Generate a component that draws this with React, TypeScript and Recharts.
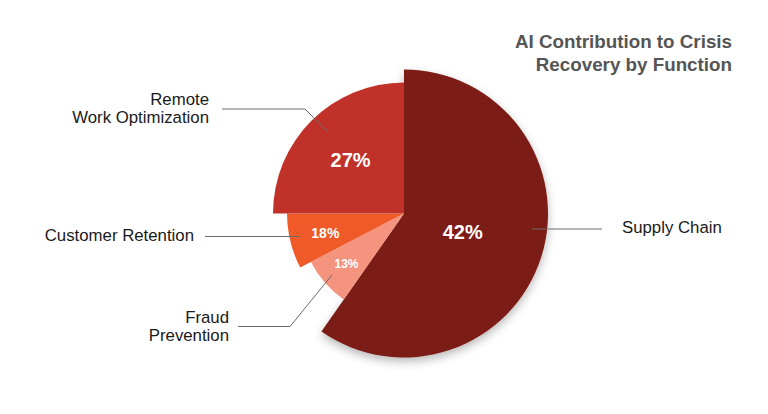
import React from 'react';
import { PieChart, Pie, Cell } from 'recharts';

// slices in clockwise order from 12 o'clock
const categories = ['Supply Chain', 'Fraud\nPrevention', 'Customer Retention', 'Remote\nWork Optimization'];
const shares = [42, 13, 18, 27];        // printed percentage
const sweeps = [215, 27.5, 27.5, 90];   // angular weight as drawn
const radii = [144, 105, 117, 131];     // outer radius of each slice
const colors = ['#7b1d16', '#f4937e', '#f05a29', '#bf3129'];

const data = categories.map((name, i) => ({ name, share: shares[i], sweep: sweeps[i] }));

const FONT = "'Liberation Sans', Arial, Helvetica, sans-serif";
const CX = 404;
const CY = 213.5;

// label layout, offsets from the pie centre
const pctRadius = [61.5, 76.5, 81, 75.5];
const pctSize = [20, 12, 14, 20];
const leaders = [
  { pts: [[128, 15.5], [198, 15.5]], anchor: 'start', tx: 218, ty: 13.5 },
  { pts: [[-72, 61.5], [-114, 113], [-166, 113]], anchor: 'end', tx: -175, ty: 103 },
  { pts: [[-104, 23], [-199, 23]], anchor: 'end', tx: -210, ty: 21.5 },
  { pts: [[-76, -81.5], [-99, -104.5], [-182, -104.5]], anchor: 'end', tx: -195, ty: -115 },
];

const RAD = Math.PI / 180;

const makeLabel = (slot: number) => (props: any) => {
  if (props.index !== slot) return null;
  const { cx, cy, midAngle } = props;
  const px = cx + pctRadius[slot] * Math.cos(-midAngle * RAD);
  const py = cy + pctRadius[slot] * Math.sin(-midAngle * RAD);
  const lead = leaders[slot];
  const path = lead.pts.map((p, k) => `${k ? 'L' : 'M'}${cx + p[0]},${cy + p[1]}`).join(' ');
  const lines = categories[slot].split('\n');
  return (
    <g>
      <path d={path} stroke="#6b6b6b" strokeWidth={1} fill="none" />
      <text
        x={px}
        y={py}
        fill="#fff"
        fontFamily={FONT}
        fontWeight="bold"
        fontSize={pctSize[slot]}
        textAnchor="middle"
        dominantBaseline="central"
      >
        {shares[slot]}%
      </text>
      <text
        x={cx + lead.tx}
        y={cy + lead.ty}
        fill="#1a1a1a"
        fontFamily={FONT}
        fontSize={16.8}
        textAnchor={lead.anchor as any}
        dominantBaseline="central"
      >
        {lines.map((ln, k) => (
          <tspan key={k} x={cx + lead.tx} dy={k ? 18.3 : 0}>
            {ln}
          </tspan>
        ))}
      </text>
    </g>
  );
};

export default function App() {
  return (
    <div style={{ position: 'fixed', left: 0, top: 0, width: 768, height: 414, background: '#fff' }}>
      <svg width={0} height={0} style={{ position: 'absolute' }}>
        <defs>
          <filter id="sliceShadow" x="-20%" y="-20%" width="140%" height="140%">
            <feDropShadow dx={0} dy={4} stdDeviation={5} floodColor="#000" floodOpacity={0.28} />
          </filter>
        </defs>
      </svg>
      <PieChart width={768} height={414} margin={{ top: 0, right: 0, bottom: 0, left: 0 }}>
        {radii.map((r, slot) => (
          <Pie
            key={slot}
            data={data}
            dataKey="sweep"
            nameKey="name"
            cx={CX}
            cy={CY}
            innerRadius={0}
            outerRadius={r}
            startAngle={90}
            endAngle={-270}
            stroke="none"
            label={makeLabel(slot)}
            labelLine={false}
            isAnimationActive={false}
          >
            {data.map((d, i) => (
              <Cell
                key={d.name}
                fill={i === slot ? colors[i] : 'transparent'}
                stroke="none"
                filter={i === slot && slot === 0 ? 'url(#sliceShadow)' : undefined}
              />
            ))}
          </Pie>
        ))}
      </PieChart>
      <div
        style={{
          position: 'absolute',
          right: 36,
          top: 30,
          textAlign: 'right',
          fontFamily: FONT,
          fontWeight: 'bold',
          fontSize: 18.8,
          lineHeight: '23.3px',
          color: '#555',
        }}
      >
        AI Contribution to Crisis
        <br />
        Recovery by Function
      </div>
    </div>
  );
}
